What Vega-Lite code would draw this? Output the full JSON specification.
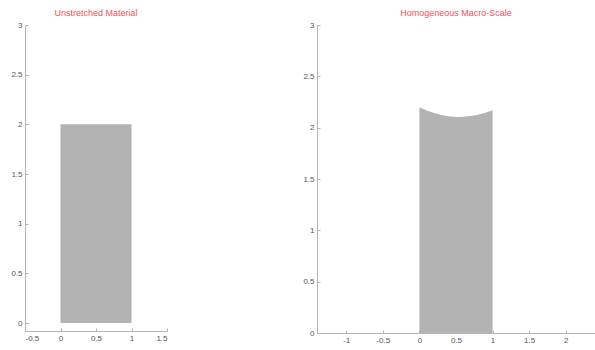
{
  "$schema": "https://vega.github.io/schema/vega-lite/v6.json",
  "padding": {"left": 10, "top": 9, "right": 0, "bottom": 0},
  "background": "white",
  "spacing": 150,
  "bounds": "flush",
  "datasets": {
    "unstretched": [{"x0": 0, "x1": 1, "y0": 0, "y1": 2}],
    "macro": [
      {"x": 0.0, "top": 2.2},
      {"x": 0.1, "top": 2.168},
      {"x": 0.2, "top": 2.143},
      {"x": 0.3, "top": 2.124},
      {"x": 0.4, "top": 2.111},
      {"x": 0.5, "top": 2.105},
      {"x": 0.6, "top": 2.106},
      {"x": 0.7, "top": 2.114},
      {"x": 0.8, "top": 2.127},
      {"x": 0.9, "top": 2.146},
      {"x": 1.0, "top": 2.17}
    ]
  },
  "config": {
    "view": {"stroke": null},
    "axis": {
      "grid": false,
      "domainColor": "#b5b5b5",
      "tickColor": "#b5b5b5",
      "tickSize": -3,
      "labelColor": "#555555",
      "labelFont": "Liberation Sans",
      "labelFontSize": 8,
      "title": null,
      "labelExpr": "'' + datum.value"
    },
    "axisX": {"labelPadding": 6},
    "axisY": {"labelPadding": 6},
    "title": {"color": "#ff4d55", "font": "Liberation Sans", "fontSize": 9, "fontWeight": "normal", "offset": 3, "anchor": "middle"}
  },
  "hconcat": [
    {
      "title": "Unstretched Material",
      "width": 142,
      "height": 306,
      "data": {"name": "unstretched"},
      "mark": {"type": "rect", "color": "#b3b3b3"},
      "encoding": {
        "x": {"field": "x0", "type": "quantitative", "scale": {"domain": [-0.5, 1.5], "nice": false, "zero": false}, "axis": {"values": [-0.5, 0, 0.5, 1, 1.5]}},
        "x2": {"field": "x1"},
        "y": {"field": "y0", "type": "quantitative", "scale": {"domain": [-0.08, 3], "nice": false, "zero": false}, "axis": {"values": [0, 0.5, 1, 1.5, 2, 2.5, 3]}},
        "y2": {"field": "y1"}
      }
    },
    {
      "title": "Homogeneous Macro-Scale",
      "width": 278,
      "height": 308,
      "data": {"name": "macro"},
      "mark": {"type": "area", "color": "#b3b3b3", "opacity": 1},
      "encoding": {
        "x": {"field": "x", "type": "quantitative", "scale": {"domain": [-1.4, 2.4], "nice": false, "zero": false}, "axis": {"values": [-1, -0.5, 0, 0.5, 1, 1.5, 2]}},
        "y": {"field": "top", "type": "quantitative", "scale": {"domain": [0, 3], "nice": false, "zero": false}, "axis": {"values": [0, 0.5, 1, 1.5, 2, 2.5, 3]}},
        "y2": {"datum": 0}
      }
    }
  ]
}
